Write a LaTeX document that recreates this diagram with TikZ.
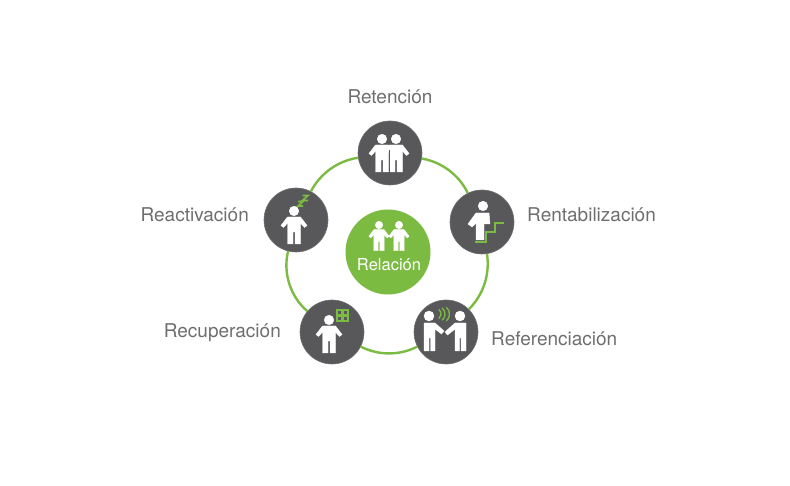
\documentclass[tikz,border=0pt]{standalone}
\usepackage{fontspec}
\setmainfont{TeX Gyre Heros}
\usepackage{xcolor}
\definecolor{ringgreen}{HTML}{7BBB42}
\definecolor{discgray}{HTML}{58585A}
\definecolor{labelgray}{HTML}{6E6E70}
\tikzset{
  disc/.style={circle, fill=discgray, draw=discgray!85!white, line width=0.6pt, inner sep=0pt, minimum size=64pt},
  stagedisc/.style={circle, fill=ringgreen, inner sep=0pt, minimum size=85pt},
  stagelabel/.style={text=labelgray, font=\fontsize{19}{21}\selectfont, inner sep=0pt},
  ringarc/.style={draw=ringgreen, line width=2.4pt, bend left=27, looseness=0.9},
  figure/.style={fill=white, draw=white, line width=0.4pt, line join=round},
  greenline/.style={draw=ringgreen, line width=1.7pt},
  pics/person/.style={code={
    \fill[figure] (0,0) circle (4.8);
    \fill[figure] (-6.5,6) -- (6.5,6) -- (13,14.5) -- (10.5,16.5) -- (6.5,12) -- (6.5,33) -- (1,33) -- (1,21)
      -- (-1,21) -- (-1,33) -- (-6.5,33) -- (-6.5,12) -- (-10.5,16.5) -- (-13,14.5) -- cycle;
  }}
}
\begin{document}
\begin{tikzpicture}[x=1pt, y=-1pt]
  \useasboundingbox (0,0) rectangle (790,486);

  \node[disc] (retencion) at (390,153) {};
  \node[disc] (rentabilizacion) at (482,222) {};
  \node[disc] (referenciacion) at (446,332) {};
  \node[disc] (recuperacion) at (332,332) {};
  \node[disc] (reactivacion) at (296,220) {};
  \node[stagedisc] (relacion) at (388,252) {};

  \draw[ringarc] (retencion) to (rentabilizacion);
  \draw[ringarc] (rentabilizacion) to (referenciacion);
  \draw[ringarc] (referenciacion) to (recuperacion);
  \draw[ringarc, bend left=32] (recuperacion) to (reactivacion);
  \draw[ringarc] (reactivacion) to (retencion);

  \node[stagelabel, anchor=center] (retencionlabel) at (390,96.5) {Retención};
  \node[stagelabel, anchor=west] (rentabilizacionlabel) at (527,215) {Rentabilización};
  \node[stagelabel, anchor=west] (referenciacionlabel) at (491,339) {Referenciación};
  \node[stagelabel, anchor=east] (recuperacionlabel) at (281,333) {Recuperación};
  \node[stagelabel, anchor=east] (reactivacionlabel) at (249,215) {Reactivación};
  \node[text=white, font=\fontsize{16.5}{18}\selectfont, inner sep=0pt] (relacionlabel) at (389,265) {Relación};

  \pic at (379,225) [scale=0.78] {person};
  \pic at (399,225) [scale=0.78] {person};

  \pic at (382,139) {person};
  \pic at (396,139) {person};
  \draw[discgray, line width=1pt] (389,150) -- (389,173);

  \pic at (294,211) {person};
  \draw[greenline] (298,201.5) -- (303,201.5) -- (298,206) -- (303,206);
  \draw[greenline] (302.5,195.5) -- (308,195.5) -- (302.5,200.5) -- (308,200.5);

  \pic at (329,320) {person};
  \fill[ringgreen] (336,309) rectangle (349,322);
  \foreach \sx in {338.2,343.8}
    \foreach \sy in {311.2,316.8}
      \fill[discgray] (\sx,\sy) rectangle ++(3,3);

  \fill[figure] (429,316) circle (5);
  \fill[figure] (460,316) circle (5);
  \fill[figure] (424,323) -- (435,323) -- (444,331) -- (441.5,334) -- (435,329) -- (435,351) -- (430.5,351)
    -- (430.5,338) -- (429,338) -- (429,351) -- (424,351) -- cycle;
  \fill[figure] (466,323) -- (455,323) -- (445,332) -- (447.5,335) -- (455,329) -- (455,351) -- (459.5,351)
    -- (459.5,338) -- (461,338) -- (461,351) -- (466,351) -- cycle;
  \foreach \wx/\wr in {435/6,437/8,440.5/9}
    \draw[ringgreen, line width=1.3pt] (\wx,314) ++(-50:\wr) arc[start angle=-50, end angle=50, radius=\wr];

  \fill[figure] (483,206) circle (4.8);
  \fill[figure] (476,213) -- (489,213) -- (490,224) -- (484,224) -- (484,240) -- (476,240) -- (476,223)
    -- (472,227) -- (468,224) -- cycle;
  \draw[greenline] (475,242) -- (486,242) -- (486,232) -- (495,232) -- (495,223) -- (504,223);
\end{tikzpicture}
\end{document}
